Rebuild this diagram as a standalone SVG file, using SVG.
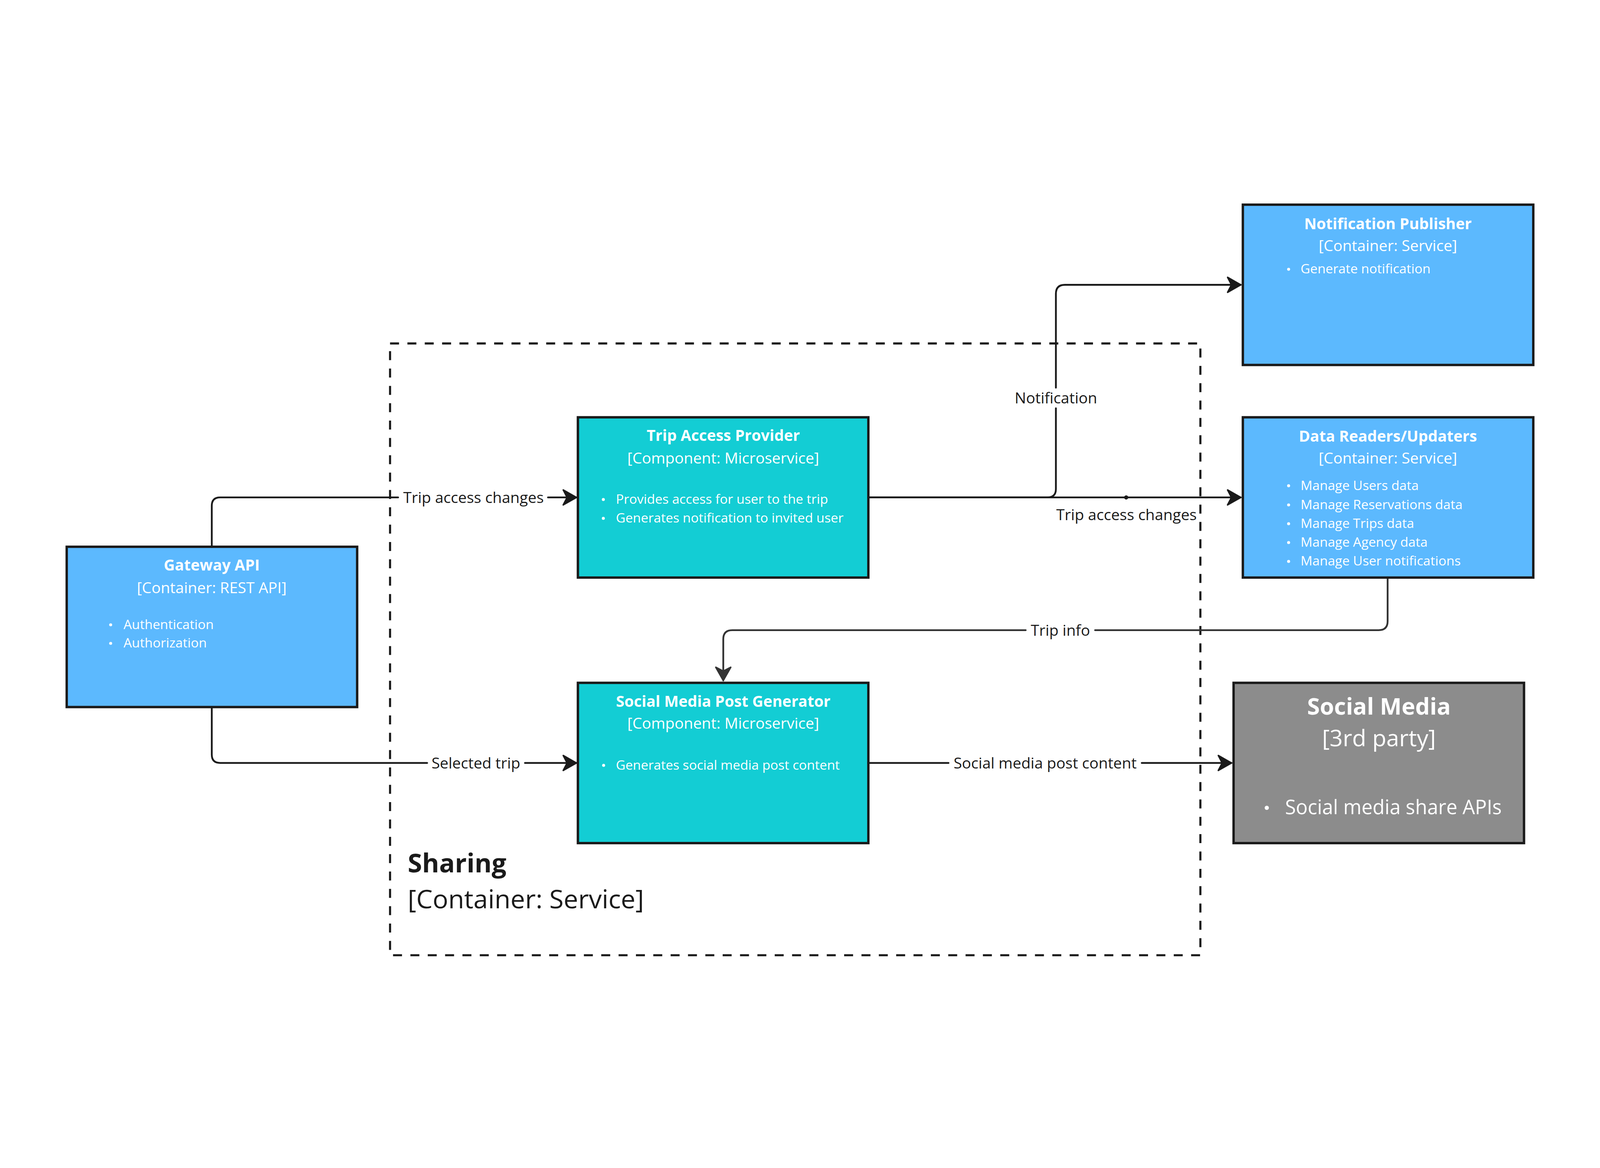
<svg xmlns="http://www.w3.org/2000/svg" width="5349" height="2991" viewBox="0 0 5349 2991" style="max-width:100vw;max-height:100vh">
<style>
text{font-family:'Open Sans','Liberation Sans',sans-serif}
.box{stroke:#1a1a1a;stroke-width:8}
.blue{fill:#5cb9fe}
.cyan{fill:#13cdd4}
.gray{fill:#8c8c8c}
.t{fill:#ffffff;font-size:51px;font-weight:700;text-anchor:middle}
.s{fill:#ffffff;font-size:51px;text-anchor:middle}
.b{fill:#ffffff;font-size:44px}
.dot{fill:#ffffff}
.c{fill:none;stroke:#1a1a1a;stroke-width:6;stroke-linecap:round;stroke-linejoin:round}
.c2{fill:none;stroke:#333333;stroke-width:6;stroke-linecap:round;stroke-linejoin:round}
.lbl{fill:#1a1a1a;font-size:51px;text-anchor:middle}
.dash{fill:none;stroke:#1a1a1a;stroke-width:7;stroke-dasharray:30 28}
</style>
<defs>
<marker id="ah" viewBox="-50 -32 56 64" markerWidth="56" markerHeight="64" refX="0" refY="0" markerUnits="userSpaceOnUse" orient="auto">
<path d="M0,0 L-44,-25 L-31,0 L-44,25 Z" fill="#1a1a1a" stroke="#1a1a1a" stroke-width="5" stroke-linejoin="round"/>
</marker>
<marker id="ah2" viewBox="-50 -32 56 64" markerWidth="56" markerHeight="64" refX="0" refY="0" markerUnits="userSpaceOnUse" orient="auto">
<path d="M0,0 L-44,-25 L-31,0 L-44,25 Z" fill="#333333" stroke="#333333" stroke-width="5" stroke-linejoin="round"/>
</marker>
</defs>
<rect width="5349" height="2991" fill="#ffffff"/>

<g id="sharing">
<rect class="dash" x="1304" y="691" width="2709" height="2046"/>
<text x="1363" y="2460" style="fill:#1a1a1a;font-size:87px;font-weight:700">Sharing</text>
<text x="1363" y="2580" style="fill:#1a1a1a;font-size:87px">[Container: Service]</text>
</g>

<g id="connectors">
<path class="c" d="M708,1367 V1234 Q708,1206 736,1206 H1331"/>
<path class="c" d="M1832,1206 H1927" marker-end="url(#ah)"/>
<text class="lbl" x="1583" y="1224">Trip access changes</text>

<path class="c" d="M708,1911 V2066 Q708,2094 736,2094 H1428"/>
<path class="c" d="M1755,2094 H1927" marker-end="url(#ah)"/>
<text class="lbl" x="1591" y="2112">Selected trip</text>

<path class="c" d="M2907,1206 H4148" marker-end="url(#ah)"/>
<circle cx="3765" cy="1206" r="7" fill="#1a1a1a"/>
<text class="lbl" x="3766" y="1282">Trip access changes</text>

<path class="c" d="M2907,1206 H3502 Q3530,1206 3530,1178 V908"/>
<path class="c" d="M3530,839 V525 Q3530,495 3560,495 H4148" marker-end="url(#ah)"/>
<text class="lbl" x="3530" y="892">Notification</text>

<path class="c2" d="M4639,1478 V1620 Q4639,1650 4609,1650 H3661"/>
<path class="c2" d="M3429,1650 H2448 Q2418,1650 2418,1680 V1818" marker-end="url(#ah2)"/>
<text class="lbl" x="3545" y="1668">Trip info</text>

<path class="c" d="M2907,2094 H3171"/>
<path class="c" d="M3817,2094 H4117" marker-end="url(#ah)"/>
<text class="lbl" x="3494" y="2112">Social media post content</text>
</g>

<g id="gateway-api">
<rect class="box blue" x="223" y="1371" width="971" height="536"/>
<text class="t" x="708" y="1450">Gateway API</text>
<text class="s" x="708" y="1526">[Container: REST API]</text>
<circle class="dot" cx="370" cy="1632" r="5"/>
<text class="b" x="413" y="1646">Authentication</text>
<circle class="dot" cx="370" cy="1694" r="5"/>
<text class="b" x="413" y="1708">Authorization</text>
</g>

<g id="trip-access-provider">
<rect class="box cyan" x="1932" y="938" width="971" height="536"/>
<text class="t" x="2418" y="1017">Trip Access Provider</text>
<text class="s" x="2418" y="1092">[Component: Microservice]</text>
<circle class="dot" cx="2017" cy="1213" r="5"/>
<text class="b" x="2059" y="1227">Provides access for user to the trip</text>
<circle class="dot" cx="2017" cy="1276" r="5"/>
<text class="b" x="2059" y="1290">Generates notification to invited user</text>
</g>

<g id="social-media-post-generator">
<rect class="box cyan" x="1932" y="1826" width="971" height="536"/>
<text class="t" x="2418" y="1906">Social Media Post Generator</text>
<text class="s" x="2418" y="1980">[Component: Microservice]</text>
<circle class="dot" cx="2018" cy="2102" r="5"/>
<text class="b" x="2059" y="2116">Generates social media post content</text>
</g>

<g id="notification-publisher">
<rect class="box blue" x="4155" y="227" width="971" height="536"/>
<text class="t" x="4640" y="309">Notification Publisher</text>
<text class="s" x="4640" y="382">[Container: Service]</text>
<circle class="dot" cx="4308" cy="443" r="5"/>
<text class="b" x="4348" y="457">Generate notification</text>
</g>

<g id="data-readers-updaters">
<rect class="box blue" x="4155" y="938" width="971" height="536"/>
<text class="t" x="4640" y="1019">Data Readers/Updaters</text>
<text class="s" x="4640" y="1093">[Container: Service]</text>
<circle class="dot" cx="4308" cy="1167" r="5"/>
<text class="b" x="4348" y="1181">Manage Users data</text>
<circle class="dot" cx="4308" cy="1231" r="5"/>
<text class="b" x="4348" y="1245">Manage Reservations data</text>
<circle class="dot" cx="4308" cy="1294" r="5"/>
<text class="b" x="4348" y="1308">Manage Trips data</text>
<circle class="dot" cx="4308" cy="1357" r="5"/>
<text class="b" x="4348" y="1371">Manage Agency data</text>
<circle class="dot" cx="4308" cy="1420" r="5"/>
<text class="b" x="4348" y="1434">Manage User notifications</text>
</g>

<g id="social-media">
<rect class="box gray" x="4124" y="1826" width="971" height="536"/>
<text x="4610" y="1932" style="fill:#ffffff;font-size:77px;font-weight:700;text-anchor:middle">Social Media</text>
<text x="4610" y="2038" style="fill:#ffffff;font-size:77px;text-anchor:middle">[3rd party]</text>
<circle class="dot" cx="4235" cy="2244" r="7"/>
<text x="4296" y="2265" style="fill:#ffffff;font-size:66px">Social media share APIs</text>
</g>
</svg>
